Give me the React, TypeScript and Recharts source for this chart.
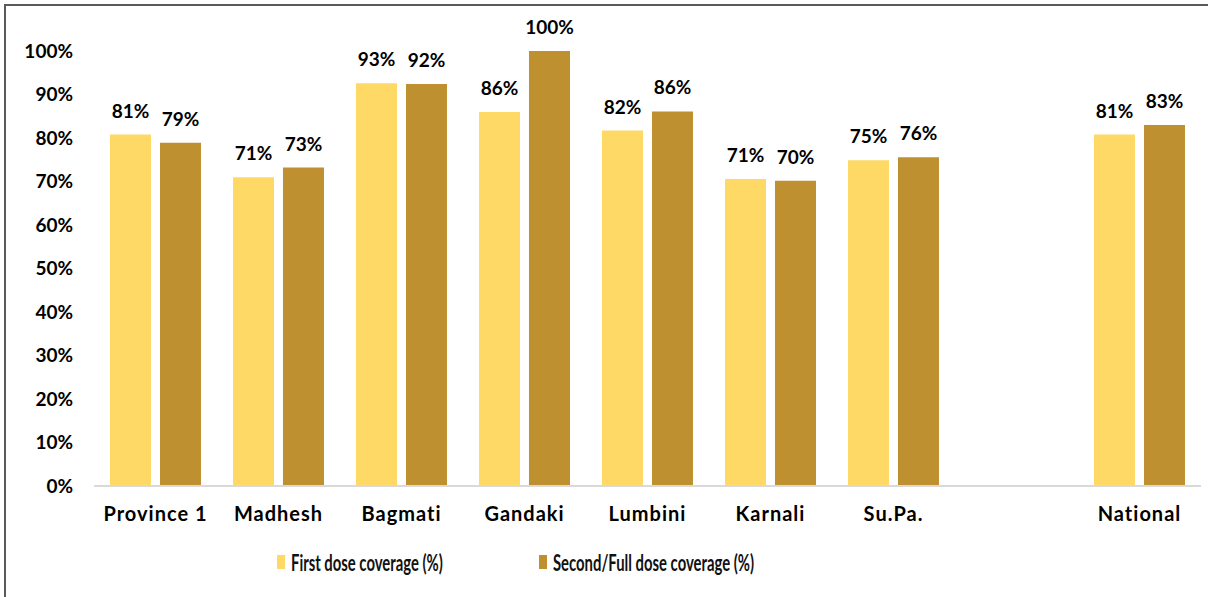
import { Bar, BarChart, LabelList, Legend, XAxis, YAxis } from "recharts";

const regions = ["Province 1", "Madhesh", "Bagmati", "Gandaki", "Lumbini", "Karnali", "Su.Pa.", "", "National"];
const firstDose = [80.8, 71.0, 92.6, 86.0, 81.7, 70.6, 74.9, null, 80.8];
const fullDose = [78.9, 73.2, 92.4, 100, 86.1, 70.2, 75.6, null, 83.0];
const yTicks = [0, 10, 20, 30, 40, 50, 60, 70, 80, 90, 100];

const data = regions.map((name, i) => ({ name, first: firstDose[i], full: fullDose[i] }));

const FIRST = "#FFD966";
const FULL = "#BF9030";
const font = "Lato, 'Open Sans', sans-serif";

const pct = (v: any) => (v == null ? "" : `${Math.round(Number(v))}%`);

function LegendBox() {
  const items = [
    { label: "First dose coverage (%)", color: FIRST, left: 277 },
    { label: "Second/Full dose coverage (%)", color: FULL, left: 539 },
  ];
  return (
    <div style={{ position: "relative", height: 51, width: 1208 }}>
      {items.map((it) => (
        <div
          key={it.label}
          style={{ position: "absolute", left: it.left, top: 16, height: 20, display: "flex", alignItems: "center", whiteSpace: "nowrap" }}
        >
          <span style={{ width: 8, height: 14, background: it.color, marginRight: 6, flex: "none" }} />
          <span
            style={{
              fontFamily: font,
              fontSize: 22,
              fontWeight: 700,
              color: "#111",
              display: "inline-block",
              transform: "scaleX(0.675)",
              transformOrigin: "left center",
            }}
          >
            {it.label}
          </span>
        </div>
      ))}
    </div>
  );
}

export default function App() {
  return (
    <div style={{ position: "absolute", left: 0, top: 0, width: 1208, height: 597, background: "#fff" }}>
      <div
        style={{ position: "absolute", left: 4, top: 4, right: -10, bottom: -10, borderLeft: "2px solid #5a5a5a", borderTop: "2px solid #5a5a5a" }}
      />
      <BarChart
        width={1208}
        height={597}
        data={data}
        margin={{ top: 51, right: 7, left: 24, bottom: 10 }}
        barCategoryGap="13%"
        barGap={9}
      >
        <XAxis
          dataKey="name"
          height={50}
          tickLine={false}
          tickSize={0}
          tickMargin={21}
          axisLine={{ stroke: "#d9d9d9", strokeWidth: 2 }}
          tick={{ fill: "#000", fontFamily: font, fontWeight: 700, fontSize: 20, letterSpacing: 1 }}
          interval={0}
        />
        <YAxis
          width={70}
          domain={[0, 100]}
          ticks={yTicks}
          tickFormatter={(v) => `${v}%`}
          axisLine={false}
          tickLine={false}
          tickSize={0}
          tickMargin={21}
          tick={{ fill: "#000", fontFamily: font, fontWeight: 700, fontSize: 19 }}
        />
        <Legend verticalAlign="bottom" wrapperStyle={{ left: 0, width: 1208 }} content={() => <LegendBox />} />
        <Bar dataKey="first" name="First dose coverage (%)" fill={FIRST} isAnimationActive={false}>
          <LabelList dataKey="first" position="top" offset={17} formatter={pct} fill="#000" fontFamily={font} fontWeight={700} fontSize={19} />
        </Bar>
        <Bar dataKey="full" name="Second/Full dose coverage (%)" fill={FULL} isAnimationActive={false}>
          <LabelList dataKey="full" position="top" offset={17} formatter={pct} fill="#000" fontFamily={font} fontWeight={700} fontSize={19} />
        </Bar>
      </BarChart>
    </div>
  );
}
